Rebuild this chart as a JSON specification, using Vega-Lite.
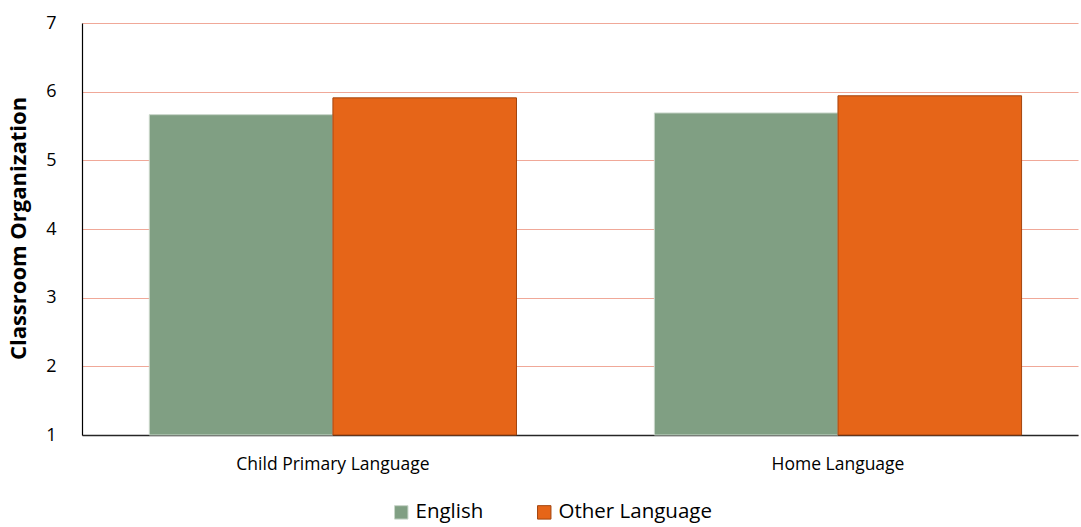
{
  "$schema": "https://vega.github.io/schema/vega-lite/v6.json",
  "autosize": "none",
  "width": 996,
  "height": 412,
  "padding": {"left": 82, "top": 23, "right": 3, "bottom": 92},
  "background": "white",
  "config": {
    "font": "Open Sans",
    "view": {"stroke": null}
  },
  "data": {
    "values": [
      {"category": "Child Primary Language", "group": "English", "value": 5.665},
      {"category": "Child Primary Language", "group": "Other Language", "value": 5.91},
      {"category": "Home Language", "group": "English", "value": 5.69},
      {"category": "Home Language", "group": "Other Language", "value": 5.94}
    ]
  },
  "mark": {"type": "bar", "strokeWidth": 1},
  "encoding": {
    "x": {
      "field": "category",
      "type": "nominal",
      "sort": null,
      "scale": {"paddingInner": 0.273, "paddingOuter": 0.1225, "align": 0.544},
      "axis": {
        "title": null,
        "labelAngle": 0,
        "labelFontSize": 17.5,
        "labelLimit": 400,
        "labelColor": "#000000",
        "labelPadding": 20,
        "ticks": false,
        "domainColor": "#262626",
        "domainWidth": 1.5
      }
    },
    "xOffset": {"field": "group", "type": "nominal", "sort": ["English", "Other Language"]},
    "y": {
      "field": "value",
      "type": "quantitative",
      "scale": {"domain": [1, 7], "nice": false, "zero": false},
      "axis": {
        "title": "Classroom Organization",
        "titleFontSize": 22,
        "titleFontWeight": "bold",
        "titleColor": "#000000",
        "titleAngle": -90,
        "titleAlign": "center",
        "titleBaseline": "middle",
        "titleX": -64,
        "titleY": 205,
        "values": [1, 2, 3, 4, 5, 6, 7],
        "labelFontSize": 18,
        "labelColor": "#000000",
        "labelPadding": 26,
        "ticks": false,
        "gridColor": "#f0a898",
        "gridWidth": 1.2,
        "domainColor": "#000000",
        "domainWidth": 1.2
      }
    },
    "y2": {"datum": 1},
    "color": {
      "field": "group",
      "type": "nominal",
      "sort": ["English", "Other Language"],
      "scale": {"domain": ["English", "Other Language"], "range": ["#809f83", "#e66518"]},
      "legend": {
        "title": null,
        "orient": "none",
        "direction": "horizontal",
        "legendX": 309,
        "legendY": 479,
        "symbolType": "square",
        "symbolSize": 180,
        "symbolStrokeWidth": 1,
        "labelFontSize": 20.5,
        "labelLimit": 400,
        "labelColor": "#000000",
        "labelOffset": 4,
        "columnPadding": 50,
        "symbolOpacity": 1
      }
    },
    "stroke": {
      "field": "group",
      "type": "nominal",
      "sort": ["English", "Other Language"],
      "scale": {"domain": ["English", "Other Language"], "range": ["#c9d6ca", "#a3450e"]},
      "legend": null
    }
  }
}
